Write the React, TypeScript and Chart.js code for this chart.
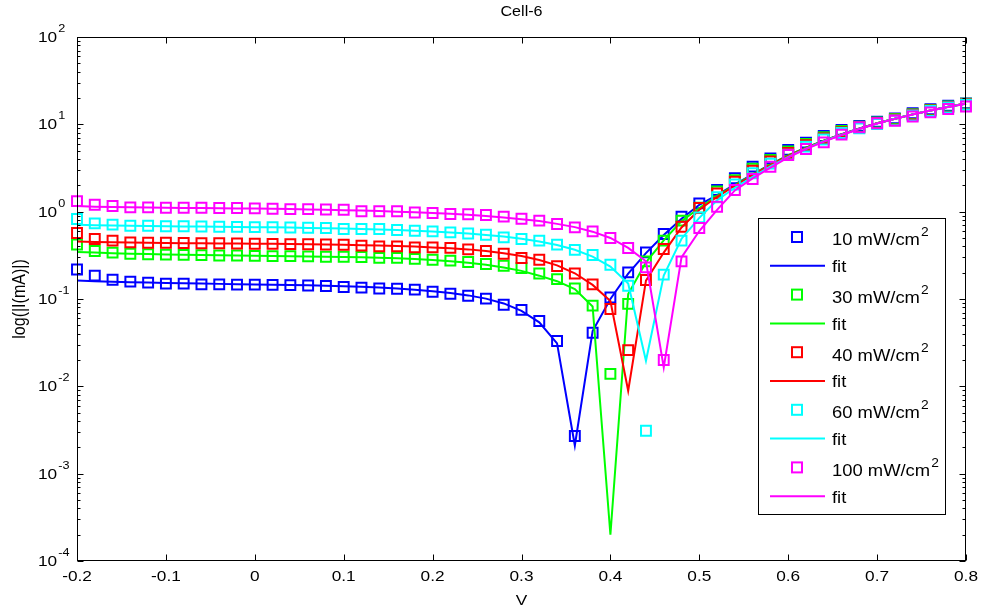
import { useEffect, useRef } from "react";
import { Chart, registerables } from "chart.js";

Chart.register(...registerables);

// Bias voltage (V)
const voltage = [-0.2, -0.18, -0.16, -0.14, -0.12, -0.1, -0.08, -0.06, -0.04, -0.02, 0, 0.02, 0.04, 0.06, 0.08, 0.1, 0.12, 0.14, 0.16, 0.18, 0.2, 0.22, 0.24, 0.26, 0.28, 0.3, 0.32, 0.34, 0.36, 0.38, 0.4, 0.42, 0.44, 0.46, 0.48, 0.5, 0.52, 0.54, 0.56, 0.58, 0.6, 0.62, 0.64, 0.66, 0.68, 0.7, 0.72, 0.74, 0.76, 0.78, 0.8];

// |I| in mA, measured, per illumination level
const meas10 = [0.218, 0.185, 0.166, 0.158, 0.154, 0.15, 0.15, 0.147, 0.147, 0.146, 0.146, 0.145, 0.144, 0.143, 0.141, 0.137, 0.135, 0.132, 0.131, 0.128, 0.121, 0.115, 0.109, 0.101, 0.086, 0.075, 0.056, 0.033, 0.0027, 0.041, 0.104, 0.202, 0.342, 0.556, 0.877, 1.245, 1.77, 2.41, 3.28, 4.08, 5.1, 6.17, 7.36, 8.63, 9.59, 10.7, 11.7, 13.4, 14.9, 16.3, 17.4];
const meas30 = [0.42, 0.355, 0.34, 0.33, 0.325, 0.322, 0.32, 0.318, 0.315, 0.315, 0.312, 0.31, 0.31, 0.308, 0.305, 0.305, 0.303, 0.296, 0.296, 0.288, 0.282, 0.275, 0.265, 0.252, 0.24, 0.226, 0.196, 0.169, 0.132, 0.084, 0.0139, 0.088, 0.27, 0.466, 0.79, 1.11, 1.7, 2.3, 3.1, 3.9, 4.9, 5.95, 7.1, 8.4, 9.4, 10.5, 11.5, 13.1, 14.6, 16.0, 17.2];
const meas40 = [0.57, 0.487, 0.466, 0.445, 0.44, 0.44, 0.438, 0.435, 0.435, 0.432, 0.43, 0.428, 0.425, 0.423, 0.42, 0.418, 0.408, 0.4, 0.4, 0.39, 0.39, 0.385, 0.37, 0.355, 0.33, 0.295, 0.282, 0.238, 0.196, 0.147, 0.0768, 0.026, 0.165, 0.374, 0.673, 1.1, 1.62, 2.2, 2.95, 3.75, 4.7, 5.75, 6.9, 8.15, 9.2, 10.3, 11.3, 12.9, 14.4, 15.8, 17.0];
const meas60 = [0.824, 0.734, 0.71, 0.69, 0.69, 0.68, 0.68, 0.675, 0.672, 0.67, 0.665, 0.662, 0.66, 0.655, 0.65, 0.634, 0.634, 0.632, 0.617, 0.605, 0.595, 0.579, 0.563, 0.544, 0.508, 0.487, 0.466, 0.419, 0.365, 0.319, 0.247, 0.142, 0.0031, 0.19, 0.466, 0.86, 1.46, 2.05, 2.75, 3.55, 4.5, 5.55, 6.7, 7.95, 9.0, 10.1, 11.1, 12.6, 14.2, 15.6, 16.8];
const meas100 = [1.32, 1.2, 1.16, 1.12, 1.12, 1.11, 1.11, 1.11, 1.1, 1.1, 1.09, 1.08, 1.07, 1.07, 1.06, 1.05, 1.01, 1.01, 1.01, 0.98, 0.966, 0.94, 0.935, 0.916, 0.877, 0.83, 0.789, 0.723, 0.661, 0.594, 0.5, 0.384, 0.23, 0.02, 0.27, 0.65, 1.14, 1.77, 2.37, 3.27, 4.46, 5.22, 6.22, 7.62, 9.25, 10.3, 11.0, 12.3, 13.7, 15.0, 16.0];

// |I| in mA, model fit
const fit10 = [0.163, 0.16, 0.158, 0.156, 0.154, 0.152, 0.151, 0.15, 0.149, 0.148, 0.147, 0.146, 0.145, 0.144, 0.142, 0.14, 0.138, 0.135, 0.132, 0.128, 0.123, 0.117, 0.11, 0.101, 0.089, 0.073, 0.054, 0.031, 0.0021, 0.043, 0.1, 0.195, 0.335, 0.54, 0.83, 1.2, 1.55, 2.05, 2.68, 3.48, 4.42, 5.42, 6.5, 7.7, 8.95, 10.3, 11.6, 13.0, 14.4, 15.9, 17.3];
const fit30 = [0.345, 0.34, 0.335, 0.33, 0.327, 0.324, 0.321, 0.319, 0.317, 0.315, 0.313, 0.311, 0.309, 0.307, 0.305, 0.303, 0.3, 0.297, 0.292, 0.287, 0.28, 0.271, 0.26, 0.246, 0.229, 0.21, 0.185, 0.16, 0.13, 0.082, 0.0002, 0.114, 0.263, 0.47, 0.78, 1.1, 1.52, 2.02, 2.65, 3.45, 4.4, 5.4, 6.48, 7.68, 8.92, 10.3, 11.6, 13.0, 14.4, 15.9, 17.3];
const fit40 = [0.455, 0.45, 0.446, 0.443, 0.44, 0.438, 0.436, 0.434, 0.432, 0.431, 0.43, 0.428, 0.426, 0.423, 0.42, 0.417, 0.413, 0.409, 0.404, 0.398, 0.39, 0.38, 0.37, 0.355, 0.335, 0.31, 0.28, 0.243, 0.197, 0.145, 0.095, 0.0089, 0.162, 0.34, 0.66, 1.05, 1.48, 1.98, 2.6, 3.4, 4.35, 5.35, 6.45, 7.65, 8.9, 10.3, 11.6, 13.0, 14.4, 15.9, 17.3];
const fit60 = [0.71, 0.7, 0.695, 0.69, 0.686, 0.682, 0.678, 0.675, 0.672, 0.668, 0.665, 0.661, 0.657, 0.652, 0.647, 0.641, 0.634, 0.626, 0.617, 0.606, 0.594, 0.579, 0.562, 0.542, 0.518, 0.49, 0.456, 0.415, 0.366, 0.306, 0.235, 0.15, 0.0196, 0.185, 0.49, 0.85, 1.35, 1.88, 2.5, 3.3, 4.25, 5.28, 6.4, 7.6, 8.87, 10.25, 11.6, 13.0, 14.4, 15.9, 17.2];
const fit100 = [1.16, 1.14, 1.13, 1.12, 1.115, 1.11, 1.105, 1.1, 1.095, 1.09, 1.085, 1.08, 1.07, 1.06, 1.05, 1.04, 1.03, 1.015, 1.0, 0.985, 0.965, 0.945, 0.92, 0.89, 0.86, 0.82, 0.78, 0.725, 0.665, 0.59, 0.5, 0.385, 0.27, 0.0165, 0.3, 0.6, 1.05, 1.75, 2.4, 3.2, 4.18, 5.22, 6.35, 7.55, 8.85, 10.2, 11.55, 12.95, 14.4, 15.8, 17.2];

const irradiance = ["10", "30", "40", "60", "100"];
const colors = ["#0000ff", "#00ff00", "#ff0000", "#00ffff", "#ff00ff"];
const measured = [meas10, meas30, meas40, meas60, meas100];
const fitted = [fit10, fit30, fit40, fit60, fit100];

const xTicks = [-0.2, -0.1, 0, 0.1, 0.2, 0.3, 0.4, 0.5, 0.6, 0.7, 0.8];
const xTickLabels = ["-0.2", "-0.1", "0", "0.1", "0.2", "0.3", "0.4", "0.5", "0.6", "0.7", "0.8"];
const yDecades = [-4, -3, -2, -1, 0, 1, 2];

const FONT = '"Liberation Sans", Arial, Helvetica, sans-serif';
const HS = 1.15; // horizontal text stretch

function drawText(
  ctx: CanvasRenderingContext2D,
  s: string,
  x: number,
  y: number,
  size: number,
  align: "left" | "center" | "right" = "left"
): number {
  ctx.save();
  ctx.font = `${size}px ${FONT}`;
  ctx.textBaseline = "middle";
  ctx.textAlign = "left";
  const w = ctx.measureText(s).width * HS;
  let x0 = x;
  if (align === "center") x0 = x - w / 2;
  else if (align === "right") x0 = x - w;
  ctx.translate(x0, y);
  ctx.scale(HS, 1);
  ctx.fillStyle = "#000";
  ctx.fillText(s, 0, 0);
  ctx.restore();
  return w;
}

const framePlugin = {
  id: "matlabFrame",
  afterDatasetsDraw(chart: any) {
    const ctx: CanvasRenderingContext2D = chart.ctx;
    const a = chart.chartArea;
    const xs = chart.scales.x;
    const ys = chart.scales.y;
    const L = Math.round(a.left) + 0.5;
    const R = Math.round(a.right) - 0.5;
    const T = Math.round(a.top) + 0.5;
    const B = Math.round(a.bottom) - 0.5;

    ctx.save();
    ctx.strokeStyle = "#000";
    ctx.lineWidth = 1;
    ctx.strokeRect(L, T, R - L, B - T);

    ctx.beginPath();
    xTicks.forEach((v) => {
      const px = Math.round(xs.getPixelForValue(v)) + 0.5;
      ctx.moveTo(px, B);
      ctx.lineTo(px, B - 6);
      ctx.moveTo(px, T);
      ctx.lineTo(px, T + 6);
    });
    yDecades.forEach((d) => {
      const py = Math.round(ys.getPixelForValue(Math.pow(10, d))) + 0.5;
      ctx.moveTo(L, py);
      ctx.lineTo(L + 6, py);
      ctx.moveTo(R, py);
      ctx.lineTo(R - 6, py);
      if (d < 2) {
        for (let m = 2; m <= 9; m++) {
          const pm = Math.round(ys.getPixelForValue(m * Math.pow(10, d))) + 0.5;
          ctx.moveTo(L, pm);
          ctx.lineTo(L + 3, pm);
          ctx.moveTo(R, pm);
          ctx.lineTo(R - 3, pm);
        }
      }
    });
    ctx.stroke();

    // tick labels
    xTicks.forEach((v, i) => {
      drawText(ctx, xTickLabels[i], xs.getPixelForValue(v), 577, 15, "center");
    });
    yDecades.forEach((d) => {
      const py = ys.getPixelForValue(Math.pow(10, d));
      const w = drawText(ctx, "10", 38, py + 1, 15);
      drawText(ctx, String(d), 38 + w + 1, py - 8, 11);
    });

    // titles
    drawText(ctx, "Cell-6", (a.left + a.right) / 2, 12, 14, "center");
    drawText(ctx, "V", (a.left + a.right) / 2, 601, 15, "center");
    ctx.save();
    ctx.translate(20, (a.top + a.bottom) / 2);
    ctx.rotate(-Math.PI / 2);
    ctx.scale(1, HS);
    ctx.font = `16px ${FONT}`;
    ctx.textAlign = "center";
    ctx.textBaseline = "middle";
    ctx.fillStyle = "#000";
    ctx.fillText("log(|I(mA)|)", 0, 0);
    ctx.restore();

    // legend
    ctx.fillStyle = "#fff";
    ctx.fillRect(758, 218, 187, 296);
    ctx.strokeStyle = "#000";
    ctx.lineWidth = 1;
    ctx.strokeRect(758.5, 218.5, 187, 296);
    irradiance.forEach((lab, k) => {
      const ym = 237 + k * 57.6;
      const yl = ym + 28.8;
      ctx.strokeStyle = colors[k];
      ctx.lineWidth = 2;
      ctx.strokeRect(792, ym - 5, 10, 10);
      const w = drawText(ctx, `${lab} mW/cm`, 832, ym + 4, 16);
      drawText(ctx, "2", 832 + w + 1, ym - 4, 12);
      ctx.beginPath();
      ctx.moveTo(770, yl);
      ctx.lineTo(825, yl);
      ctx.strokeStyle = colors[k];
      ctx.lineWidth = 2;
      ctx.stroke();
      drawText(ctx, "fit", 832, yl + 2, 16);
    });
    ctx.restore();
  },
};

export default function App() {
  const canvasRef = useRef<HTMLCanvasElement | null>(null);

  useEffect(() => {
    const canvas = canvasRef.current;
    if (!canvas) return;
    const datasets: any[] = [];
    irradiance.forEach((lab, k) => {
      datasets.push({
        label: `${lab} mW/cm2`,
        data: voltage.map((v, i) => ({ x: v, y: measured[k][i] })),
        showLine: false,
        pointStyle: "rect",
        pointRadius: 7,
        pointBorderWidth: 2,
        borderColor: colors[k],
        backgroundColor: "rgba(0,0,0,0)",
        order: 20 - 2 * k,
        clip: false,
      });
      datasets.push({
        label: "fit",
        data: voltage.map((v, i) => ({ x: v, y: fitted[k][i] })),
        showLine: true,
        pointRadius: 0,
        borderWidth: 2,
        borderColor: colors[k],
        backgroundColor: colors[k],
        tension: 0,
        order: 19 - 2 * k,
        clip: false,
      });
    });

    const chart = new Chart(canvas, {
      type: "scatter",
      data: { datasets },
      options: {
        responsive: false,
        animation: false,
        layout: { padding: { left: 77, right: 15, top: 37, bottom: 49 } },
        scales: {
          x: { type: "linear", min: -0.2, max: 0.8, display: false },
          y: { type: "logarithmic", min: 1e-4, max: 100, display: false },
        },
        plugins: {
          legend: { display: false },
          tooltip: { enabled: false },
          title: { display: false },
        },
        events: [],
      },
      plugins: [framePlugin],
    });
    return () => chart.destroy();
  }, []);

  return (
    <div style={{ position: "fixed", left: 0, top: 0, width: 981, height: 610, background: "#fff" }}>
      <canvas ref={canvasRef} width={981} height={610} style={{ display: "block" }} />
    </div>
  );
}
